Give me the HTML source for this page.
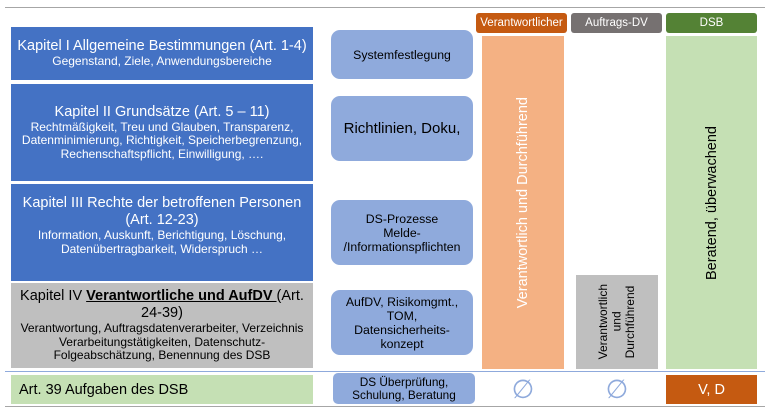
<!DOCTYPE html>
<html><head><style>
body{margin:0;width:765px;height:410px;background:#fff;position:relative;overflow:hidden;font-family:"Liberation Sans",sans-serif}
div{position:absolute;box-sizing:border-box}
.c{display:flex;flex-direction:column;align-items:center;justify-content:center;text-align:center}
.b{background:#4472c4;color:#fff;left:11px;width:302px}
.m{background:#8faadc;color:#000;border-radius:9px;left:331px;width:142px;font-size:12.3px;line-height:14px}
.h{top:13px;height:20px;border-radius:3px;color:#fff;font-size:11.5px;width:91px}
.big{font-size:14.5px;line-height:17px}
.sm{font-size:12px;line-height:13.5px}
.v{writing-mode:vertical-rl;transform:rotate(180deg)}
</style></head><body>
<div style="left:5px;top:7px;width:760px;height:1px;background:#a6a6a6"></div>
<div class="b c" style="top:27px;height:53px"><span class="big">Kapitel I Allgemeine Bestimmungen (Art. 1-4)</span><span class="sm">Gegenstand, Ziele, Anwendungsbereiche</span></div>
<div class="b c" style="top:84px;height:97px"><span class="big">Kapitel II Grundsätze (Art. 5 – 11)</span><span class="sm">Rechtmäßigkeit, Treu und Glauben, Transparenz,<br>Datenminimierung, Richtigkeit, Speicherbegrenzung,<br>Rechenschaftspflicht, Einwilligung, ….</span></div>
<div class="b c" style="top:184px;height:97px;justify-content:flex-start;padding-top:11px"><span class="big">Kapitel III Rechte der betroffenen Personen<br>(Art. 12-23)</span><span class="sm">Information, Auskunft, Berichtigung, Löschung,<br>Datenübertragbarkeit, Widerspruch …</span></div>
<div class="b c" style="top:283px;height:85px;background:#bfbfbf;color:#000"><span class="big">Kapitel IV <b><u>Verantwortliche und AufDV </u></b>(Art.<br>24-39)</span><span class="sm">Verantwortung, Auftragsdatenverarbeiter, Verzeichnis<br>Verarbeitungstätigkeiten, Datenschutz-<br>Folgeabschätzung, Benennung des DSB</span></div>
<div style="left:5px;top:371px;width:760px;height:1px;background:#8faadc"></div>
<div class="b c" style="top:375px;height:29px;background:#c5e0b4;color:#000;align-items:flex-start;padding-left:8px;font-size:14.5px">Art. 39 Aufgaben des DSB</div>
<div style="left:5px;top:406px;width:760px;height:1px;background:#a6a6a6"></div>

<div class="m c" style="top:30px;height:49px">Systemfestlegung</div>
<div class="m c" style="top:96px;height:65px;font-size:15px">Richtlinien, Doku,</div>
<div class="m c" style="top:200px;height:65px">DS-Prozesse<br>Melde-<br>/Informationspflichten</div>
<div class="m c" style="top:290px;height:65px">AufDV, Risikomgmt.,<br>TOM,<br>Datensicherheits-<br>konzept</div>
<div class="m c" style="top:373px;height:31px;left:333px;border-radius:5px;font-size:11.8px;line-height:13px">DS Überprüfung,<br>Schulung, Beratung</div>

<div class="h c" style="left:476px;background:#c55a11">Verantwortlicher</div>
<div class="h c" style="left:571px;background:#767171">Auftrags-DV</div>
<div class="h c" style="left:666px;background:#548235">DSB</div>
<div class="c" style="left:482px;top:36px;width:82px;height:333px;background:#f4b183;color:#fff;font-size:14.5px"><span class="v">Verantwortlich und Durchführend</span></div>
<div class="c" style="left:576px;top:275px;width:82px;height:94px;background:#bfbfbf;color:#000;font-size:12px;line-height:13.5px"><span class="v" style="text-align:center">Verantwortlich<br>und<br>Durchführend</span></div>
<div class="c" style="left:666px;top:36px;width:91px;height:333px;background:#c5e0b4;color:#000;font-size:14.5px"><span class="v">Beratend, überwachend</span></div>
<div class="c" style="left:482px;top:375px;width:82px;height:29px;color:#8faadc;font-size:26px;font-weight:300">∅</div>
<div class="c" style="left:576px;top:375px;width:82px;height:29px;color:#8faadc;font-size:26px;font-weight:300">∅</div>
<div class="c" style="left:666px;top:375px;width:91px;height:29px;background:#c55a11;color:#fff;font-size:14.5px">V, D</div>
</body></html>
